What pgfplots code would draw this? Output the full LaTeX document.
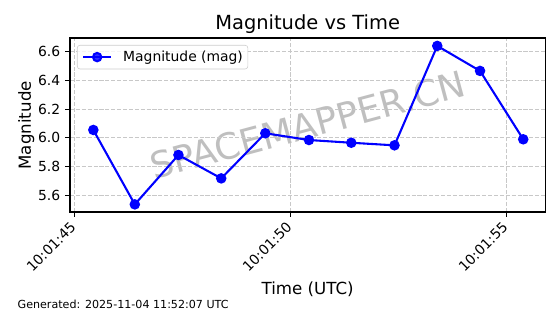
\documentclass[border=0pt]{standalone}
\usepackage{fontspec}
\setmainfont{DejaVu Sans}
\usepackage{pgfplots}
\pgfplotsset{compat=1.18}
\definecolor{gridc}{RGB}{200,200,200}
\definecolor{legc}{RGB}{204,204,204}
\begin{document}
\begin{tikzpicture}
% watermark
\node[rotate=15, text=gray, opacity=0.5, font=\fontsize{26}{30}\selectfont] at (221.5pt,135.9pt) {SPACEMAPPER.CN};
\begin{axis}[
  at={(50.4pt,73.44pt)}, anchor=south west,
  scale only axis, width=342.2pt, height=125.28pt,
  xmin=44.90, xmax=55.90, ymin=5.484, ymax=6.695,
  xtick={45,50,55}, xticklabels={10:01:45,10:01:50,10:01:55},
  ytick={5.6,5.8,6.0,6.2,6.4,6.6},
  /pgf/number format/assume math mode=true,
  yticklabel style={/pgf/number format/.cd, fixed, fixed zerofill, precision=1},
  xticklabel style={xshift=-3.6pt, rotate=45, anchor=north east, inner sep=2pt},
  tick label style={font=\fontsize{10}{12}\selectfont},
  tick align=outside, major tick length=3.5pt,
  every tick/.style={black, line width=0.8pt},
  xtick pos=bottom, ytick pos=left,
  axis line style={line width=0.8pt},
  grid=major,
  major grid style={gridc, line width=0.8pt, dash pattern=on 2.96pt off 1.28pt},
  legend style={at={(0,1)}, anchor=north west, xshift=5pt, yshift=-5pt,
    draw=legc, rounded corners=2pt, fill=white, fill opacity=0.8, text opacity=1,
    font=\fontsize{10}{12}\selectfont, inner xsep=3.6pt, inner ysep=2pt,
    nodes={inner xsep=0pt},
    /tikz/every odd column/.append style={column sep=8pt}},
  legend cell align=left,
  legend image code/.code={\draw[mark repeat=2,mark phase=2,#1] plot coordinates {(0pt,0pt) (10pt,0pt) (20pt,0pt)};},
]
\addplot[color={rgb,255:red,0;green,0;blue,255}, line width=1.5pt, mark=*, mark size=3pt, mark options={solid}]
coordinates {
(45.44,6.055) (46.40,5.537) (47.41,5.881) (48.40,5.718) (49.42,6.032)
(50.43,5.985) (51.41,5.966) (52.41,5.948) (53.40,6.640) (54.39,6.466) (55.39,5.990)
};
\addlegendentry{Magnitude (mag)}
\end{axis}
\node[anchor=base, font=\fontsize{14}{16}\selectfont] at (221.5pt,204.7pt) {Magnitude vs Time};
\node[anchor=base, font=\fontsize{12}{14}\selectfont] at (221.5pt,14.4pt) {Time (UTC)};
\node[anchor=base, rotate=90, font=\fontsize{12}{14}\selectfont] at (22.3pt,135.9pt) {Magnitude};
\node[anchor=base west, inner sep=0pt, font=\fontsize{8}{10}\selectfont] at (12.5pt,3.7pt) {Generated: 2025-11-04 11:52:07 UTC};
\pgfresetboundingbox
\path[use as bounding box] (0,0) rectangle (403.2pt,226.08pt);
\end{tikzpicture}
\end{document}
